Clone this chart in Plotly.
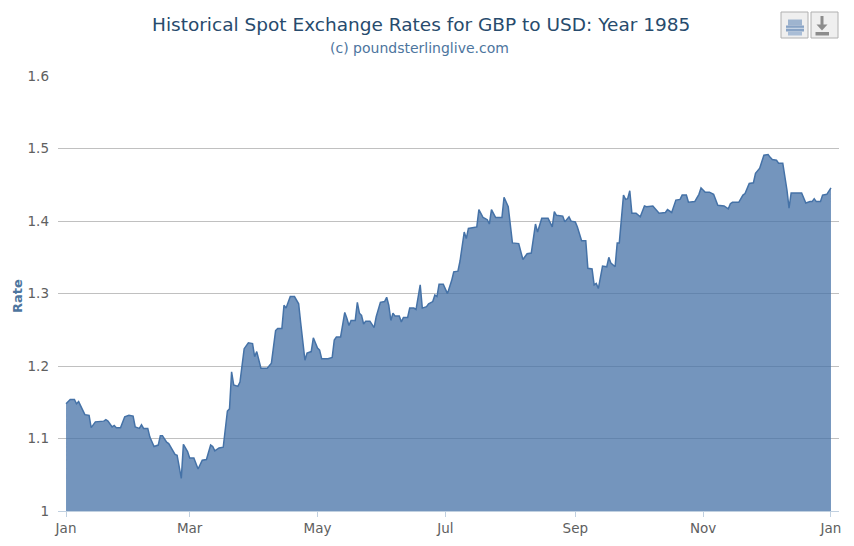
import pandas as pd
import plotly.graph_objects as go

# days after 1 Jan 1985 and the GBP/USD spot rate
day_of_year = [
    0, 2, 4, 5, 6, 8, 9, 11, 12, 14, 15, 18, 19, 20, 22, 23, 24, 26, 28, 30,
    32, 33, 35, 36, 37, 39, 40, 42, 44, 45, 46, 48, 49, 51, 52, 53, 55, 56, 58, 59,
    61, 63, 65, 67, 69, 70, 71, 73, 75, 77, 78, 79, 80, 82, 83, 85, 87, 89, 90, 91,
    93, 96, 98, 100, 101, 103, 104, 105, 107, 109, 111, 112, 114, 115, 117, 118, 120, 121, 122, 125,
    127, 128, 129, 131, 133, 134, 135, 136, 138, 139, 140, 141, 142, 143, 145, 147, 148, 150, 152, 153,
    154, 155, 156, 157, 159, 160, 161, 163, 164, 166, 167, 169, 170, 172, 173, 175, 176, 177, 178, 180,
    182, 184, 185, 187, 188, 190, 191, 192, 196, 197, 199, 201, 202, 203, 205, 208, 209, 211, 213, 216,
    218, 220, 222, 224, 225, 227, 230, 232, 233, 234, 237, 238, 240, 241, 243, 244, 246, 248, 249, 251,
    252, 253, 254, 256, 258, 259, 260, 262, 263, 264, 266, 267, 268, 269, 270, 272, 274, 276, 277, 280,
    281, 283, 286, 287, 289, 291, 293, 294, 296, 297, 300, 302, 303, 305, 307, 309, 311, 314, 316, 317,
    318, 321, 323, 324, 326, 328, 329, 331, 333, 335, 336, 337, 339, 340, 342, 343, 344, 345, 346, 351,
    353, 355, 356, 357, 358, 360, 361, 363, 365,
]
gbp_usd = [
    1.148, 1.154, 1.154, 1.148, 1.151, 1.139, 1.133, 1.132, 1.115, 1.123, 1.123, 1.124, 1.126, 1.124, 1.116, 1.118, 1.115, 1.115, 1.130, 1.132,
    1.131, 1.116, 1.114, 1.119, 1.114, 1.114, 1.102, 1.089, 1.091, 1.104, 1.104, 1.095, 1.093, 1.084, 1.078, 1.077, 1.045, 1.092, 1.082, 1.073,
    1.073, 1.058, 1.070, 1.071, 1.091, 1.089, 1.083, 1.087, 1.088, 1.138, 1.141, 1.192, 1.174, 1.172, 1.178, 1.224, 1.232, 1.231, 1.213, 1.220,
    1.197, 1.197, 1.204, 1.249, 1.252, 1.252, 1.284, 1.280, 1.296, 1.296, 1.286, 1.259, 1.208, 1.218, 1.220, 1.239, 1.225, 1.222, 1.210, 1.210,
    1.212, 1.236, 1.240, 1.240, 1.274, 1.266, 1.256, 1.263, 1.263, 1.288, 1.273, 1.270, 1.258, 1.262, 1.262, 1.253, 1.268, 1.288, 1.289, 1.295,
    1.284, 1.263, 1.273, 1.269, 1.269, 1.261, 1.267, 1.267, 1.280, 1.280, 1.278, 1.312, 1.280, 1.282, 1.286, 1.289, 1.298, 1.296, 1.313, 1.313,
    1.300, 1.318, 1.330, 1.331, 1.345, 1.385, 1.376, 1.390, 1.392, 1.416, 1.405, 1.402, 1.396, 1.416, 1.405, 1.405, 1.433, 1.420, 1.370, 1.369,
    1.347, 1.355, 1.356, 1.396, 1.385, 1.404, 1.404, 1.392, 1.413, 1.408, 1.407, 1.399, 1.406, 1.400, 1.399, 1.392, 1.373, 1.373, 1.335, 1.334,
    1.312, 1.314, 1.307, 1.338, 1.337, 1.350, 1.342, 1.337, 1.370, 1.370, 1.436, 1.430, 1.431, 1.442, 1.411, 1.411, 1.406, 1.421, 1.420, 1.421,
    1.418, 1.411, 1.412, 1.416, 1.412, 1.429, 1.430, 1.436, 1.436, 1.426, 1.427, 1.437, 1.446, 1.440, 1.440, 1.437, 1.422, 1.421, 1.417, 1.424,
    1.426, 1.426, 1.436, 1.438, 1.452, 1.453, 1.466, 1.473, 1.491, 1.492, 1.488, 1.485, 1.484, 1.480, 1.480, 1.463, 1.443, 1.418, 1.439, 1.439,
    1.425, 1.427, 1.427, 1.431, 1.427, 1.427, 1.436, 1.437, 1.446,
]
y_ticks = [1, 1.1, 1.2, 1.3, 1.4, 1.5, 1.6]

dates = pd.Timestamp("1985-01-01") + pd.to_timedelta(day_of_year, unit="D")

# the page body has an 8px margin, so the figure starts at (8, 8)
OFF = 8
W, H = 838, 530
# plot area in page pixels: x 58..839, y 76..511
L, R, T, B = 58, 839, 76, 511


def px(x):
    return (x - L) / (R - L)


def py(y):
    return (B - y) / (B - T)


fig = go.Figure()
fig.add_trace(
    go.Scatter(
        x=dates,
        y=gbp_usd,
        mode="lines",
        line=dict(color="#4572A7", width=1.5),
        fill="tozeroy",
        fillcolor="rgba(69,114,167,0.75)",
        hoverinfo="x+y",
        name="GBP/USD",
    )
)

font = "DejaVu Sans, Liberation Sans, sans-serif"

fig.update_layout(
    width=W,
    height=H,
    margin=dict(l=L - OFF, r=W - (R - OFF), t=T - OFF, b=H - (B - OFF)),
    paper_bgcolor="white",
    plot_bgcolor="white",
    showlegend=False,
    font=dict(family=font, color="#606060", size=13),
)
fig.update_xaxes(
    type="date",
    range=["1984-12-28 04:00", "1986-01-04 20:00"],
    tick0="1985-01-01",
    dtick="M2",
    tickformat="%b",
    showgrid=False,
    showline=True,
    linecolor="#C0D0E0",
    linewidth=1,
    ticks="outside",
    tickcolor="#C0D0E0",
    ticklen=5,
    tickfont=dict(size=13.5, color="#606060"),
    zeroline=False,
    automargin=False,
)
fig.update_yaxes(
    range=[1, 1.6003],
    tickvals=y_ticks,
    ticktext=[f"{v:g}" for v in y_ticks],
    showgrid=True,
    gridcolor="#C0C0C0",
    gridwidth=1,
    zeroline=False,
    showline=False,
    ticks="",
    ticklabelstandoff=8,
    tickfont=dict(size=13.5, color="#606060"),
    automargin=False,
)

fig.add_annotation(
    text="Historical Spot Exchange Rates for GBP to USD: Year 1985",
    xref="paper", yref="paper", x=px(421), y=py(24),
    xanchor="center", yanchor="middle", showarrow=False,
    font=dict(family=font, size=18.5, color="#274B6D"),
)
fig.add_annotation(
    text="(c) poundsterlinglive.com",
    xref="paper", yref="paper", x=px(419), y=py(48),
    xanchor="center", yanchor="middle", showarrow=False,
    font=dict(family=font, size=14, color="#4D759E"),
)
fig.add_annotation(
    text="<b>Rate</b>",
    xref="paper", yref="paper", x=px(17), y=py(296),
    xanchor="center", yanchor="middle", showarrow=False, textangle=-90,
    font=dict(family=font, size=13, color="#4D759E"),
)

# export buttons in the top right corner
shapes = []
for x0 in (781, 811):
    shapes.append(dict(
        type="rect", xref="paper", yref="paper",
        x0=px(x0), x1=px(x0 + 27), y0=py(38), y1=py(12),
        line=dict(color="#B0B0B0", width=1), fillcolor="#EFEFEF", layer="above",
    ))
# printer icon
shapes.append(dict(type="rect", xref="paper", yref="paper", x0=px(788), x1=px(802),
                   y0=py(25.5), y1=py(19.5), line=dict(width=0), fillcolor="#9EB4CF", layer="above"))
shapes.append(dict(type="rect", xref="paper", yref="paper", x0=px(786), x1=px(804),
                   y0=py(31.5), y1=py(25.5), line=dict(width=0), fillcolor="#88A3C5", layer="above"))
shapes.append(dict(type="rect", xref="paper", yref="paper", x0=px(786), x1=px(804),
                   y0=py(28.8), y1=py(27.8), line=dict(width=0), fillcolor="#D5E0EC", layer="above"))
shapes.append(dict(type="rect", xref="paper", yref="paper", x0=px(788), x1=px(802),
                   y0=py(35.5), y1=py(31.5), line=dict(width=0), fillcolor="#A9BDD6", layer="above"))
# download icon
shapes.append(dict(type="rect", xref="paper", yref="paper", x0=px(820.5), x1=px(823.5),
                   y0=py(25), y1=py(16), line=dict(width=0), fillcolor="#8C8C8C", layer="above"))
shapes.append(dict(
    type="path", xref="paper", yref="paper",
    path=f"M {px(816.5)},{py(24.5)} L {px(827.5)},{py(24.5)} L {px(822)},{py(30.5)} Z",
    line=dict(width=0), fillcolor="#8C8C8C", layer="above",
))
shapes.append(dict(type="rect", xref="paper", yref="paper", x0=px(815.5), x1=px(829),
                   y0=py(35.5), y1=py(32), line=dict(width=0), fillcolor="#8C8C8C", layer="above"))
fig.update_layout(shapes=shapes)

fig.write_html("out.html", config={"displayModeBar": False})
